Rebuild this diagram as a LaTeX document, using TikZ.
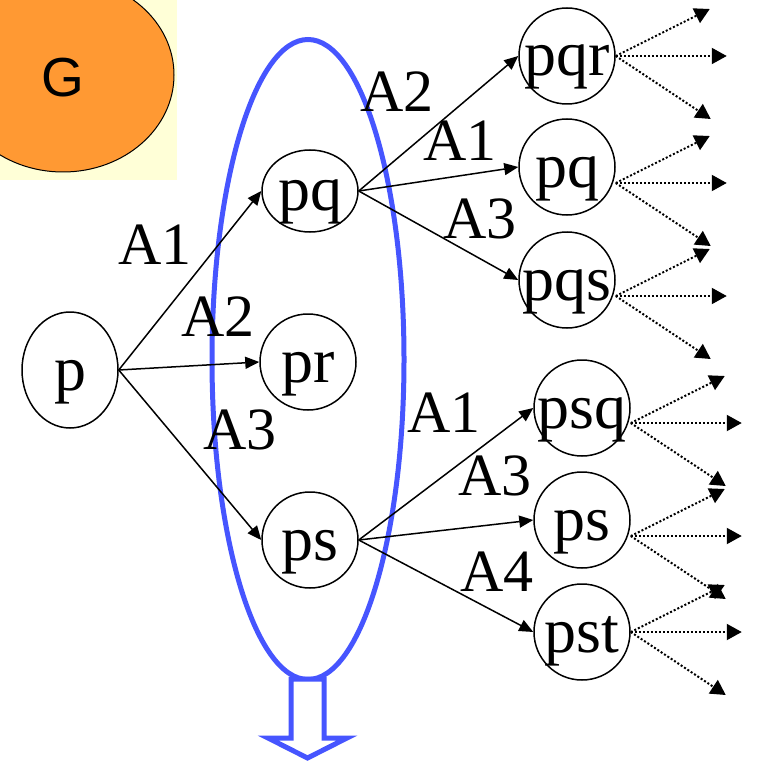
\documentclass[tikz,border=0pt]{standalone}
\usepackage{fontspec}
\setmainfont{Liberation Serif}
\newfontfamily\tfont{Liberation Serif}
\newfontfamily\gfont{Liberation Sans}
\usetikzlibrary{arrows.meta,shapes.geometric}
\definecolor{gorange}{RGB}{255,153,51}
\definecolor{gyellow}{RGB}{255,255,215}
\definecolor{setblue}{RGB}{70,85,255}

\begin{document}
\begin{tikzpicture}[x=1pt, y=-1pt,
  cand/.style={ellipse, draw, line width=1.5pt, inner xsep=-14pt, inner ysep=-10pt,
    minimum width=96pt, minimum height=96pt, text height=42pt, text depth=2pt,
    font=\tfont\fontsize{64}{64}\selectfont},
  lbl/.style={inner sep=0pt, font=\tfont\fontsize{60}{60}\selectfont},
  move/.style={line width=1.5pt, -{Triangle[length=14pt,width=12pt]}},
  fan/.style={line width=2pt, dash pattern=on 2pt off 2pt,
    -{Triangle[length=15pt,width=16pt]}}]
  \useasboundingbox (0,0) rectangle (773,762);
  % corner: G
  \begin{scope}
    \clip (0,0) rectangle (177,180);
    \fill[gyellow] (0,0) rectangle (177,180);
    \draw[fill=gorange, line width=1pt] (63,75) ellipse [x radius=111, y radius=97];
  \end{scope}
  \node[font=\gfont\fontsize{55}{55}\selectfont] (G) at (63,78) {G};
  % the set of level-2 candidates
  \draw[setblue, line width=5pt] (308,359.5) ellipse [x radius=96, y radius=320];
  \draw[setblue, line width=5pt, fill=white, line join=miter]
    (291,679) -- (291,738) -- (268,738) -- (307.5,758) -- (347,738)
    -- (324,738) -- (324,679) -- cycle;
  % candidates
  \node[cand, minimum height=116pt] (p) at (70,370) {p};
  \node[cand, minimum height=82pt] (pqA) at (310,191) {pq};
  \node[cand] (pr) at (308,362) {pr};
  \node[cand] (psA) at (310,540) {ps};
  \node[cand] (pqr) at (567,56) {pqr};
  \node[cand] (pqB) at (567,167) {pq};
  \node[cand] (pqs) at (567,280) {pqs};
  \node[cand] (psq) at (582,408) {psq};
  \node[cand] (psB) at (582,520) {ps};
  \node[cand] (pst) at (582,632) {pst};
  % extensions
  \foreach \a/\b in {p/pqA, p/pr, p/psA, pqA/pqr, pqA/pqB, pqA/pqs,
                     psA/psq, psA/psB, psA/pst}
    \draw[move] (\a.east) -- (\b.west);
  \foreach \n/\t/\x/\y in {a1/A1/155/245, a2/A2/218/317, a3/A3/240/430,
      b2/A2/397/92, b1/A1/460/141, b3/A3/480/219,
      c1/A1/444/413, c3/A3/495/476, c4/A4/497/572}
    \node[lbl] (\n) at (\x,\y) {\t};
  % further (dotted) extensions
  \foreach \n/\o in {pqr/0, pqB/16, pqs/16, psq/15, psB/16, pst/0} {
    \coordinate (\n-o) at ([yshift=-\o pt]\n.east);
    \coordinate (\n-u) at ([shift={(94,-47)}]\n-o);
    \coordinate (\n-r) at ([shift={(111,0)}]\n-o);
    \coordinate (\n-d) at ([shift={(95,63)}]\n-o);
    \draw[fan] (\n-o) -- (\n-u);
    \draw[fan] (\n-o) -- (\n-r);
    \draw[fan] (\n-o) -- (\n-d);
  }
\end{tikzpicture}
\end{document}
